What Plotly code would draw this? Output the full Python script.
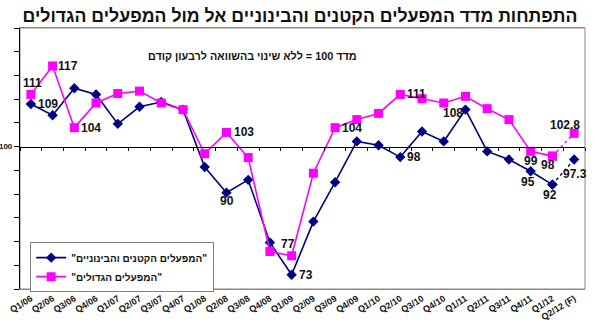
import plotly.graph_objects as go

# ---------------- data ----------------
categories = ["Q1/06", "Q2/06", "Q3/06", "Q4/06", "Q1/07", "Q2/07", "Q3/07", "Q4/07",
              "Q1/08", "Q2/08", "Q3/08", "Q4/08", "Q1/09", "Q2/09", "Q3/09", "Q4/09",
              "Q1/10", "Q2/10", "Q3/10", "Q4/10", "Q1/11", "Q2/11", "Q3/11", "Q4/11",
              "Q1/12", "Q2/12 (F)"]

small_medium = [109, 106.6, 112.3, 111, 104.8, 108.4, 109.4, 107.8, 95.7, 90.3, 93, 79.8, 73,
                84.2, 92.5, 101.1, 100.3, 97.8, 103.2, 101.1, 107.8, 99.0, 97.3, 94.8, 92, 97.3]

large = [111, 117, 104, 109.2, 111.2, 111.7, 109.2, 107.8, 98.5, 103, 97.7, 77.9, 77,
         94.4, 104, 105.7, 107, 111, 110.1, 109.2, 110.6, 108, 105.7, 99, 98, 102.8]

y_ticks = [70, 75, 80, 85, 90, 95, 100, 105, 110, 115, 120, 125]

small_label_idx = [0, 9, 12, 17, 20, 23, 24, 25]
small_label_txt = ["109", "90", "73", "98", "108", "95", "92", "97.3"]
large_label_idx = [0, 1, 2, 9, 12, 14, 17, 23, 24, 25]
large_label_txt = ["111", "117", "104", "103", "77", "104", "111", "99", "98", "102.8"]

title_text = "התפתחות מדד המפעלים הקטנים והבינוניים אל מול המפעלים הגדולים"
subtitle_text = "מדד 100 = ללא שינוי בהשוואה לרבעון קודם"
name_small = '"המפעלים הקטנים והבינוניים"'
name_large = '"המפעלים הגדולים"'

# ---------------- styling ----------------
NAVY = "#000080"
MAGENTA = "#FF00FF"
FONT = "Liberation Sans, Arial, sans-serif"
forecast_from = len(categories) - 2

small_shift = [(17, 0), (1, -8), (14, 0), (14, 0), (-12, -3), (-3, -11), (-2, -10), (1, -15)]
large_shift = [(2, 11), (15, 0), (17, 0), (18, 0), (-4, 12), (17, 0), (16, 0), (0, -10), (-4, -9), (-9, 8)]

fig = go.Figure()

fig.add_trace(go.Scatter(
    x=categories[:forecast_from + 1], y=small_medium[:forecast_from + 1],
    mode="lines+markers", name=name_small,
    line=dict(color=NAVY, width=1.6),
    marker=dict(symbol="diamond", size=8, color=NAVY)))
fig.add_trace(go.Scatter(
    x=categories[:forecast_from + 1], y=large[:forecast_from + 1],
    mode="lines+markers", name=name_large,
    line=dict(color=MAGENTA, width=1.6),
    marker=dict(symbol="square", size=9, color=MAGENTA)))
fig.add_trace(go.Scatter(
    x=categories[forecast_from:], y=small_medium[forecast_from:],
    mode="lines+markers", showlegend=False,
    line=dict(color=NAVY, width=1.4, dash="dot"),
    marker=dict(symbol="diamond", size=8, color=NAVY)))
fig.add_trace(go.Scatter(
    x=categories[forecast_from:], y=large[forecast_from:],
    mode="lines+markers", showlegend=False,
    line=dict(color=MAGENTA, width=1.4, dash="dot"),
    marker=dict(symbol="square", size=9, color=MAGENTA)))
# carrier for the axis drawn at 100
fig.add_trace(go.Scatter(x=categories, y=[None] * len(categories), xaxis="x2",
                         showlegend=False, hoverinfo="skip", mode="lines"))

annotations = []
for i, t, (dx, dy) in zip(small_label_idx, small_label_txt, small_shift):
    annotations.append(dict(x=categories[i], y=small_medium[i], text=t, showarrow=False,
                            xshift=dx, yshift=dy,
                            font=dict(size=12, color="#111", family=FONT, weight="bold")))
for i, t, (dx, dy) in zip(large_label_idx, large_label_txt, large_shift):
    annotations.append(dict(x=categories[i], y=large[i], text=t, showarrow=False,
                            xshift=dx, yshift=dy,
                            font=dict(size=12, color="#111", family=FONT, weight="bold")))
annotations.append(dict(xref="paper", yref="paper", x=0.412, y=0.923, text=subtitle_text,
                        showarrow=False, font=dict(size=10.8, color="#111", family=FONT, weight="bold")))

ymin, ymax = y_ticks[0], y_ticks[-1]

fig.update_layout(
    width=600, height=328,
    margin=dict(l=20, r=15, t=28, b=39, autoexpand=False),
    paper_bgcolor="white", plot_bgcolor="white",
    font=dict(family=FONT, color="#111"),
    title=dict(text=title_text, x=0.5, xanchor="center",
               y=1 - 16 / 328, yref="container", yanchor="middle",
               font=dict(size=17.7, color="#111", family=FONT, weight="bold")),
    xaxis=dict(type="category", categoryarray=categories, range=[-0.5, len(categories) - 0.5],
               showline=True, linecolor="#888", linewidth=1, mirror=True,
               ticks="", showgrid=False, tickangle=-32, automargin=False,
               tickfont=dict(size=9, color="#111", family=FONT, weight="bold")),
    xaxis2=dict(type="category", categoryarray=categories, range=[-0.5, len(categories) - 0.5],
                overlaying="x", anchor="free", position=(100 - ymin) / (ymax - ymin),
                showline=True, linecolor="black", linewidth=1.2, automargin=False,
                ticks="outside", ticklen=3, tickcolor="black", tickson="boundaries",
                showticklabels=False, showgrid=False),
    yaxis=dict(range=[ymin, ymax], tickvals=y_ticks,
               ticktext=["100" if v == 100 else "" for v in y_ticks],
               showline=True, linecolor="black", linewidth=1.2, automargin=False,
               ticks="outside", ticklen=5, tickcolor="black",
               showgrid=False, zeroline=False,
               tickfont=dict(size=8, color="#111", family=FONT, weight="bold")),
    shapes=[dict(type="rect", xref="paper", yref="paper", x0=0, x1=1, y0=0, y1=1,
                 line=dict(color="#888", width=1), layer="below")],
    legend=dict(x=0.018, y=-0.012, xanchor="left", yanchor="bottom",
                bordercolor="#808080", borderwidth=1, bgcolor="white",
                font=dict(size=10, color="#111", family=FONT, weight="bold")),
    annotations=annotations,
    showlegend=True,
)

fig.write_html("out.html")
